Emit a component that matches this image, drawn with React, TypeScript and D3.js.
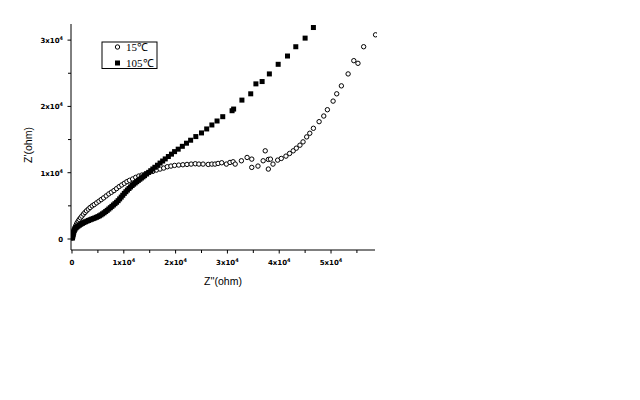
import React from "react";
import * as d3 from "d3";

// 105°C series (filled squares): Z'' (x), Z' (y)
const hotX = [100, 180, 260, 350, 450, 600, 800, 1000, 1200, 1450, 1700, 2000, 2300, 2600, 2900, 3200, 3500, 3800, 4100, 4400, 4700, 5000, 5300, 5600, 5900, 6200, 6500, 6800, 7100, 7400, 7700, 8000, 8300, 8600, 8900, 9200, 9500, 9800, 10100, 10400, 10700, 11000, 11300, 11600, 11900, 12200, 12500, 12800, 13100, 13400, 13700, 14000, 14400, 14800, 15200, 15600, 16000, 16500, 17000, 17500, 18000, 18600, 19200, 19800, 20500, 21300, 22100, 22900, 23900, 25000, 26000, 27000, 28000, 29100, 30900, 31200, 32800, 34500, 35500, 36700, 38100, 39800, 41600, 43200, 45000, 46600];
const hotY = [150, 450, 750, 1050, 1300, 1500, 1700, 1850, 1980, 2100, 2220, 2350, 2480, 2600, 2700, 2800, 2900, 2990, 3080, 3170, 3270, 3380, 3500, 3640, 3800, 3960, 4140, 4320, 4520, 4720, 4920, 5130, 5330, 5540, 5780, 6050, 6320, 6600, 6880, 7130, 7380, 7620, 7850, 8070, 8270, 8460, 8650, 8840, 9020, 9200, 9380, 9560, 9800, 10050, 10300, 10560, 10820, 11130, 11450, 11760, 12080, 12440, 12800, 13180, 13550, 13980, 14450, 14900, 15450, 16000, 16600, 17200, 17800, 18450, 19350, 19600, 20950, 21900, 23400, 23750, 24900, 26350, 27600, 29000, 30300, 31900];

// 15°C series (open circles)
const coldX = [60, 110, 170, 240, 320, 420, 550, 700, 850, 1000, 1200, 1400, 1650, 1900, 2200, 2500, 2800, 3150, 3500, 3900, 4300, 4750, 5200, 5650, 6100, 6600, 7100, 7600, 8100, 8600, 9100, 9600, 10100, 10600, 11100, 11700, 12300, 12900, 13500, 14200, 14900, 15600, 16300, 17000, 17700, 18400, 19100, 19800, 20600, 21400, 22200, 23000, 23800, 24500, 25300, 26300, 27000, 27600, 28200, 28900, 29800, 30500, 31100, 31500, 32700, 33800, 34700, 34700, 35900, 36900, 37300, 37900, 38300, 37900, 38800, 39700, 40400, 41300, 42000, 42700, 43300, 44000, 44600, 45300, 45900, 46600, 47700, 48600, 49300, 50400, 51100, 52000, 53300, 54400, 55200, 56300, 58600];
const coldY = [150, 400, 700, 950, 1200, 1450, 1700, 1950, 2200, 2450, 2700, 2950, 3200, 3450, 3750, 4000, 4250, 4500, 4750, 5000, 5200, 5450, 5700, 5950, 6200, 6500, 6800, 7050, 7300, 7600, 7900, 8150, 8400, 8650, 8850, 9050, 9300, 9500, 9650, 9850, 10050, 10200, 10400, 10550, 10700, 10900, 11000, 11100, 11150, 11200, 11250, 11300, 11350, 11300, 11300, 11250, 11300, 11300, 11400, 11500, 11300, 11550, 11650, 11300, 11800, 12300, 12050, 10800, 11000, 11800, 13300, 12000, 12050, 10550, 11300, 11900, 12150, 12500, 12900, 13300, 13700, 14150, 14650, 15400, 15950, 16700, 17700, 18550, 19500, 20800, 21900, 23100, 24900, 26900, 26500, 29000, 30800];

const majorTicks = [0, 10000, 20000, 30000, 40000, 50000];
const xMinor = [5000, 15000, 25000, 35000, 45000, 55000];
const yMajor = [0, 10000, 20000, 30000];
const yMinor = [5000, 15000, 25000];
const tickMantissa = ["0", "1x10", "2x10", "3x10", "4x10", "5x10"];
const legendLabels = ["15\u2103", "105\u2103"];

const L = 71, R = 375, T = 24, B = 250;

function TickLabel({ i, x, y, anchor }: { i: number; x: number; y: number; anchor: string }) {
  const style = { fontFamily: "DejaVu Sans", fontWeight: 700, fontSize: 7 } as const;
  if (i === 0) return <text x={x} y={y} textAnchor={anchor as any} style={style}>0</text>;
  return (
    <text x={x} y={y} textAnchor={anchor as any} style={style}>
      {tickMantissa[i]}
      <tspan fontSize={5} dy={-3}>4</tspan>
    </text>
  );
}

export default function App() {
  const x = d3.scaleLinear().domain([-193, 58490]).range([L, R]);
  const y = d3.scaleLinear().domain([-1659, 32430]).range([B, T]);
  const hot = hotX.map((v, i) => [v, hotY[i]]);
  const cold = coldX.map((v, i) => [v, coldY[i]]);
  return (
    <svg width={640} height={400} style={{ position: "absolute", left: 0, top: 0, background: "#fff" }}>
      <defs>
        <clipPath id="plot"><rect x={L} y={T - 5} width={R - L + 2} height={B - T + 5} /></clipPath>
      </defs>
      <rect width={640} height={400} fill="#fff" />
      <g clipPath="url(#plot)">
        {cold.map((d, i) => (
          <circle key={"c" + i} cx={x(d[0])} cy={y(d[1])} r={2.2} fill="#fff" stroke="#000" strokeWidth={1} />
        ))}
        {hot.map((d, i) => (
          <rect key={"h" + i} x={x(d[0]) - 2.5} y={y(d[1]) - 2.5} width={5} height={5} fill="#000" />
        ))}
      </g>
      {/* axes */}
      <line x1={L} x2={L} y1={T} y2={B} stroke="#000" strokeWidth={1} />
      <line x1={L} x2={R} y1={B} y2={B} stroke="#000" strokeWidth={1} />
      {majorTicks.map((t, i) => (
        <g key={"xt" + i}>
          <line x1={x(t)} x2={x(t)} y1={B} y2={B + 3.5} stroke="#000" />
          <TickLabel i={i} x={x(t)} y={B + 15} anchor="middle" />
        </g>
      ))}
      {xMinor.map((t, i) => (
        <line key={"xm" + i} x1={x(t)} x2={x(t)} y1={B} y2={B + 3} stroke="#000" />
      ))}
      {yMajor.map((t, i) => (
        <g key={"yt" + i}>
          <line x1={L - 3.5} x2={L} y1={y(t)} y2={y(t)} stroke="#000" />
          <TickLabel i={i} x={L - 8} y={y(t) + 3} anchor="end" />
        </g>
      ))}
      {yMinor.map((t, i) => (
        <line key={"ym" + i} x1={L - 3} x2={L} y1={y(t)} y2={y(t)} stroke="#000" />
      ))}
      <text x={223} y={285} textAnchor="middle" style={{ fontFamily: "Liberation Sans", fontSize: 10.5 }}>Z''(ohm)</text>
      <text transform="translate(32,145) rotate(-90)" textAnchor="middle" style={{ fontFamily: "Liberation Sans", fontSize: 10.5 }}>Z'(ohm)</text>
      {/* legend */}
      <rect x={102} y={42} width={55} height={26.5} fill="#fff" stroke="#000" strokeWidth={1} />
      <circle cx={117.5} cy={47} r={2.2} fill="#fff" stroke="#000" />
      <rect x={115} y={60.5} width={5} height={5} fill="#000" />
      <text x={126} y={51} style={{ fontFamily: "Liberation Serif", fontSize: 11 }}>{legendLabels[0]}</text>
      <text x={126} y={66.5} style={{ fontFamily: "Liberation Serif", fontSize: 11 }}>{legendLabels[1]}</text>
    </svg>
  );
}
